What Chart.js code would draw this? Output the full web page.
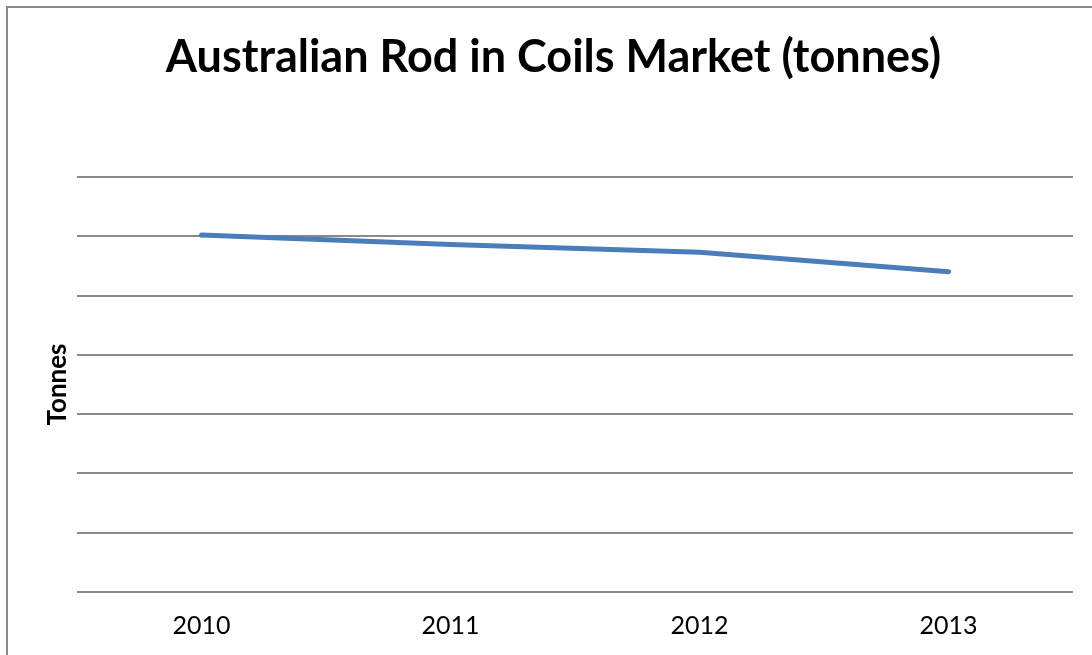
<!DOCTYPE html>
<html lang="en">
<head>
    <meta charset="UTF-8">
    <title>Australian Rod in Coils Market</title>
    <style>
        html, body {
            margin: 0;
            padding: 0;
            background: #fff;
            overflow: hidden;
        }
        #frame {
            position: absolute;
            left: 6px;
            top: 6px;
            width: 1200px;
            height: 800px;
            border: 2px solid #8a8a8a;
        }
        /* a bit taller than the window: the source picture is cropped at the bottom */
        #chart-container {
            position: absolute;
            left: 0;
            top: 0;
            width: 1092px;
            height: 660px;
        }
    </style>
</head>
<body>
    <div id="frame"></div>
    <div id="chart-container">
        <canvas id="chart"></canvas>
    </div>
    <script src="https://cdn.jsdelivr.net/npm/chart.js"></script>
    <script>
        // data (no tick values shown on the y axis)
        const years = ['2010', '2011', '2012', '2013'];
        const tonnes = [602000, 586000, 573000, 540000];
        const yMax = 700000;
        const yStep = 100000;

        const ctx = document.getElementById('chart').getContext('2d');
        const myChart = new Chart(ctx, {
            type: 'line',
            data: {
                labels: years,
                datasets: [{
                    label: 'Tonnes',
                    data: tonnes,
                    borderColor: '#4a7ebb',
                    borderWidth: 5,
                    borderCapStyle: 'round',
                    borderJoinStyle: 'round',
                    pointRadius: 0,
                    tension: 0,
                    fill: false
                }]
            },
            options: {
                responsive: true,
                maintainAspectRatio: false,
                animation: false,
                layout: {
                    padding: { left: 34, right: 19, top: 0, bottom: 0 }
                },
                plugins: {
                    legend: { display: false },
                    tooltip: { enabled: false },
                    title: {
                        display: true,
                        text: 'Australian Rod in Coils Market (tonnes)',
                        color: '#000',
                        font: { family: 'Lato', size: 45, weight: 'bold', lineHeight: 1.2 },
                        padding: { top: 30, bottom: 93 }
                    }
                },
                scales: {
                    x: {
                        offset: true,
                        grid: { display: false, drawTicks: false },
                        border: { display: false },
                        ticks: {
                            color: '#000',
                            font: { family: 'Lato', size: 25 },
                            padding: 19
                        }
                    },
                    y: {
                        min: 0,
                        max: yMax,
                        grid: {
                            color: '#8a8a8a',
                            lineWidth: 2,
                            drawTicks: false
                        },
                        border: { display: false },
                        ticks: { display: false, stepSize: yStep },
                        title: {
                            display: true,
                            text: 'Tonnes',
                            color: '#000',
                            font: { family: 'Lato', size: 26, weight: 'bold', lineHeight: 1.2 },
                            padding: { top: 8.4, bottom: 3.4 }
                        }
                    }
                }
            }
        });
    </script>
</body>
</html>
